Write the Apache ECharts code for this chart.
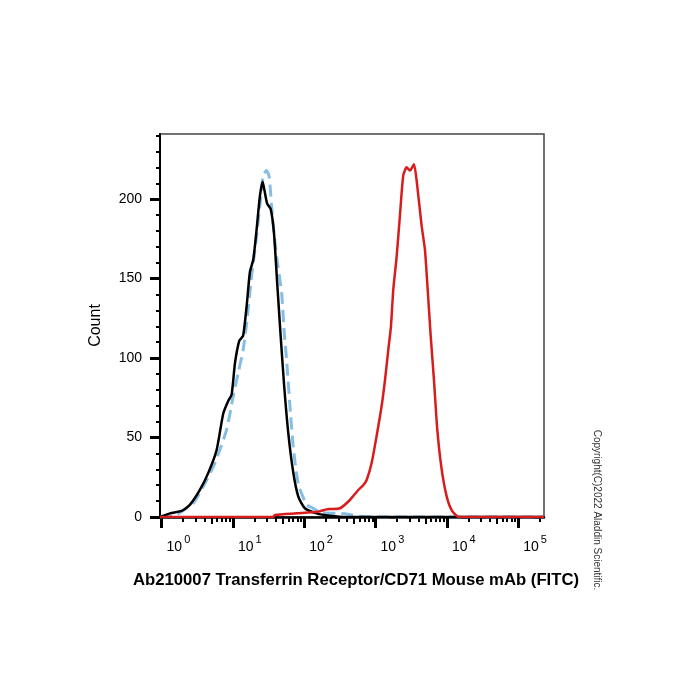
<!DOCTYPE html>
<html>
<head>
<meta charset="utf-8">
<script src="https://cdn.jsdelivr.net/npm/echarts@6/dist/echarts.min.js"></script>
<style>
  html, body { margin: 0; padding: 0; background: #fff; }
  #chart { width: 700px; height: 700px; }
</style>
</head>
<body>
<div id="chart"></div>
<script>
// 数据（荧光强度 FITC，对数轴）
const blackX = [0.95, 1.31, 1.91, 2.49, 3.44, 4.5, 5.9, 7.31, 8.59, 9.59, 10.7, 12.3, 13.9, 15.6, 17.3, 19.3, 21.5, 23.9, 26.1, 28.1, 30.3, 33.8, 37.6, 41.8, 46.7, 52, 59.7, 70.2, 82.4, 102, 149, 229, 400, 230000];
const blackY = [0, 2.3, 3.8, 7.6, 17, 27.6, 42, 65, 73, 77, 97, 111, 114, 133, 154, 162, 181, 202, 211, 204, 197, 194, 179, 147, 114, 84, 53, 28, 13, 5.5, 2.3, 0.8, 0, 0];

const blueX = [0.95, 1.54, 1.99, 2.77, 3.83, 5.59, 8.16, 10.1, 11.9, 13.9, 15.6, 18.3, 21, 23.9, 26.6, 29.7, 32.3, 36.1, 41, 48.2, 52.4, 56.6, 63, 70.2, 82.4, 108, 128, 166, 372, 604, 1153, 230000];
const blueY = [0, 1, 4, 8.6, 19, 34, 55, 76, 91, 105, 122, 152, 173, 196, 215, 218, 214, 187, 164, 141, 116, 99, 70, 44, 21, 7.6, 6, 3, 2, 0.5, 0, 0];

const redX = [0.95, 36.7, 38.8, 78.2, 156, 206, 229, 317, 437, 572, 672, 750, 881, 1035, 1218, 1355, 1508, 1644, 1772, 1977, 2199, 2446, 2731, 3035, 3455, 3848, 4433, 4932, 5383, 5930, 6596, 7336, 8453, 9935, 11670, 14450, 230000];
const redY = [0, 0, 1.3, 2.3, 3.3, 4.8, 5, 5.5, 10.7, 17, 20, 23.3, 34, 51, 70, 86, 105, 120, 143, 164, 190, 215, 220, 218, 222, 208, 183, 168, 143, 114, 86, 55, 30, 13, 4.4, 0.2, 0];

// 坐标轴刻度
const xMajor = [1, 10, 100, 1000, 10000, 100000];
const xMid = [5, 50, 500, 5000, 50000];
const xMinor = [2, 3, 4, 6, 7, 8, 9, 20, 30, 40, 60, 70, 80, 90, 200, 300, 400, 600, 700, 800, 900,
  2000, 3000, 4000, 6000, 7000, 8000, 9000, 20000, 30000, 40000, 60000, 70000, 80000, 90000, 200000];
const yMajor = [0, 50, 100, 150, 200];
const yMinor = [10, 20, 30, 40, 60, 70, 80, 90, 110, 120, 130, 140, 160, 170, 180, 190, 210, 220, 230, 240];

const xMin = 0.95, xMax = 230000, yMax = 241;
const font = "Liberation Sans, Arial, sans-serif";

const pairs = (xs, ys) => xs.map((x, i) => [x, ys[i]]);

const chart = echarts.init(document.getElementById("chart"), null, { renderer: "canvas" });

const xBase = {
  type: "log", min: xMin, max: xMax, position: "bottom",
  splitLine: { show: false }, axisLabel: { show: false }, axisLine: { show: false },
};
const yBase = {
  type: "value", min: 0, max: yMax, position: "left",
  splitLine: { show: false }, axisLabel: { show: false }, axisLine: { show: false },
};

chart.setOption({
  animation: false,
  backgroundColor: "#fff",
  grid: { left: 160, right: 156, top: 134, bottom: 183, show: true, borderColor: "#444", borderWidth: 1.5 },
  xAxis: [
    {
      ...xBase,
      axisLine: { show: true, onZero: false, lineStyle: { color: "#000", width: 2.5 } },
      axisTick: { show: true, customValues: xMajor, length: 11, lineStyle: { color: "#000", width: 3 } },
      axisLabel: {
        show: true,
        customValues: xMajor,
        margin: 17,
        align: "left",
        fontFamily: font,
        formatter: (v) => "{b|10}{s|" + Math.round(Math.log10(v)) + "}",
        rich: {
          b: { fontSize: 14, fontFamily: font, color: "#000", padding: [0, 0, 0, 5] },
          s: { fontSize: 11, fontFamily: font, color: "#000", padding: [0, 0, 16, 2] },
        },
      },
      name: "Ab210007 Transferrin Receptor/CD71 Mouse mAb (FITC)",
      nameLocation: "middle",
      nameGap: 55,
      nameTextStyle: { fontFamily: font, fontSize: 16.7, fontWeight: "bold", color: "#000", padding: [0, 0, 0, 8] },
    },
    { ...xBase, axisTick: { show: true, customValues: xMid, length: 7, lineStyle: { color: "#000", width: 2 } } },
    { ...xBase, axisTick: { show: true, customValues: xMinor, length: 5, lineStyle: { color: "#000", width: 2 } } },
  ],
  yAxis: [
    {
      ...yBase,
      axisLine: { show: true, onZero: false, lineStyle: { color: "#000", width: 2 } },
      axisTick: { show: true, customValues: yMajor, length: 10, lineStyle: { color: "#000", width: 3 } },
      axisLabel: { show: true, customValues: yMajor, margin: 18, fontFamily: font, fontSize: 14, color: "#000" },
      name: "Count",
      nameLocation: "middle",
      nameGap: 56,
      nameTextStyle: { fontFamily: font, fontSize: 16, color: "#000" },
    },
    { ...yBase, axisTick: { show: true, customValues: yMinor, length: 4, lineStyle: { color: "#000", width: 2 } } },
  ],
  series: [
    {
      type: "line", name: "blue", data: pairs(blueX, blueY), showSymbol: false, smooth: 0.2,
      lineStyle: { color: "#86bde3", width: 3, type: [12, 6] },
    },
    {
      type: "line", name: "black", data: pairs(blackX, blackY), showSymbol: false, smooth: 0.2,
      lineStyle: { color: "#000", width: 2.5 },
    },
    {
      type: "line", name: "red", data: pairs(redX, redY), showSymbol: false, smooth: 0.2,
      lineStyle: { color: "#d81b1b", width: 2.5 },
    },
  ],
  graphic: [
    {
      type: "text",
      x: 597, y: 510, rotation: -Math.PI / 2,
      style: {
        text: "Copyright(C)2022 Aladdin Scientific.",
        fontFamily: font, fontSize: 10, fill: "#333",
        align: "center", verticalAlign: "middle",
      },
    },
  ],
});
</script>
</body>
</html>
